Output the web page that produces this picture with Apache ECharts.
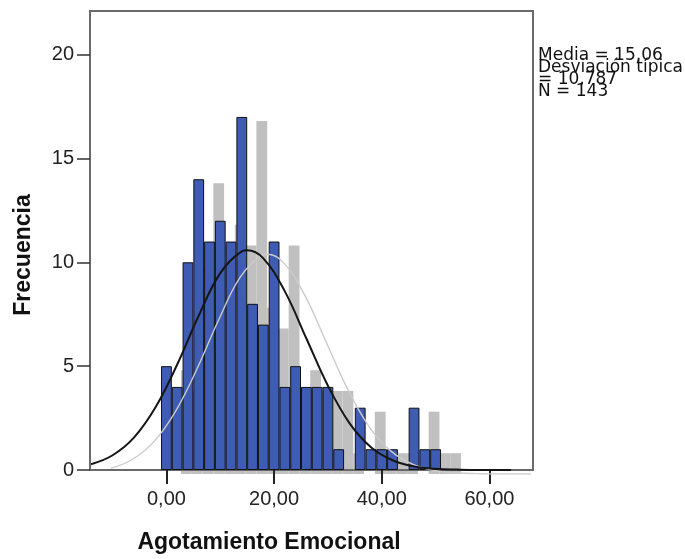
<!DOCTYPE html>
<html>
<head>
<meta charset="utf-8">
<script src="https://cdn.jsdelivr.net/npm/echarts@6/dist/echarts.min.js"></script>
<style>
  html,body{margin:0;padding:0;background:#fff;}
  #d{width:685px;height:559px;}
</style>
</head>
<body>
<div id="d"></div>
<script>
// histograma: centro de cada intervalo (ancho 2) y su frecuencia
var binCenters=[0,2,4,6,8,10,12,14,16,18,20,22,24,26,28,30,32,34,36,38,40,42,44,46,48,50];
var counts=[5,4,10,14,11,12,11,17,8,7,11,4,5,4,4,4,1,0,3,1,1,1,0,3,1,1];
// curva normal
var curveX=[-14,-10,-6,-2,2,6,10,14,15,18,22,26,30,34,38,42,46,50,54,58,64];
var curveY=[0.28,0.71,1.57,3.03,5.08,7.43,9.48,10.53,10.58,10.19,8.60,6.33,4.06,2.26,1.10,0.47,0.17,0.06,0.02,0,0];
var xTicks=[0,20,40,60];
var yTicks=[0,5,10,15,20];
var stats=['Media = 15,06','Desviación típica','= 10,787','N = 143'];

function text(){
  var bars=[],curve=[];
  for(var i=0;i<binCenters.length;i++){
    bars.push([binCenters[i],counts[i]===0?'-':counts[i]]);
  }
  for(var j=0;j<curveX.length;j++){
    curve.push([curveX[j],curveY[j]]);
  }
  return {bars:bars,curve:curve};
}

var xMin=-14.2,xMax=68.1,yMin=0,yMax=22.1;
var fmt=function(v){return v.toFixed(2).replace('.',',');};

var myChart=echarts.init(document.getElementById('d'));
var dd=text();
option={
  animation:false,
  backgroundColor:'#fff',
  grid:[
    {left:90,right:152,top:11,bottom:89,show:true,borderColor:'#6a6a6a',borderWidth:2,backgroundColor:'transparent'},
    //sombra gris desplazada
    {left:110,right:132,top:15,bottom:85,show:false}
  ],
  xAxis:[
    {type:'value',gridIndex:0,min:xMin,max:xMax,
      axisLine:{show:false,onZero:false},splitLine:{show:false},
      axisTick:{show:true,length:14,customValues:xTicks,lineStyle:{color:'#222',width:2}},
      axisLabel:{customValues:xTicks,formatter:fmt,margin:19,color:'#222',fontSize:20,fontFamily:'Liberation Sans'}},
    {type:'value',gridIndex:1,min:xMin,max:xMax,show:false}
  ],
  yAxis:[
    {type:'value',gridIndex:0,min:yMin,max:yMax,
      axisLine:{show:false,onZero:false},splitLine:{show:false},
      axisTick:{show:true,length:13,customValues:yTicks,lineStyle:{color:'#333',width:1.5}},
      axisLabel:{customValues:yTicks,margin:16,color:'#222',fontSize:20,fontFamily:'Liberation Sans'}},
    {type:'value',gridIndex:1,min:yMin,max:yMax,show:false}
  ],
  series:[
    {type:'bar',xAxisIndex:1,yAxisIndex:1,data:dd.bars,barWidth:10.8,z:-1,
      itemStyle:{color:'#c0c0c0'}},
    {type:'bar',xAxisIndex:0,yAxisIndex:0,data:dd.bars,barWidth:10.8,z:2,
      itemStyle:{color:'#3f5cb4',borderColor:'#111',borderWidth:1}},
    {type:'line',xAxisIndex:1,yAxisIndex:1,data:dd.curve,smooth:0.4,symbol:'none',z:3,
      lineStyle:{color:'#cbcbcb',width:1.4}},
    {type:'line',xAxisIndex:0,yAxisIndex:0,data:dd.curve,smooth:0.4,symbol:'none',z:4,
      lineStyle:{color:'#151515',width:2}}
  ],
  graphic:[
    {type:'text',x:269,y:543,style:{text:'Agotamiento Emocional',font:'bold 23px "Liberation Sans"',fill:'#111',align:'center',verticalAlign:'middle'}},
    {type:'text',x:24,y:255,rotation:Math.PI/2,style:{text:'Frecuencia',font:'bold 23px "Liberation Sans"',fill:'#111',align:'center',verticalAlign:'middle'}},
    {type:'text',x:538,y:50,style:{text:stats.join('\n'),font:'17px "DejaVu Sans"',lineHeight:12,fill:'#111',align:'left',verticalAlign:'top'}}
  ]
};
option && myChart.setOption(option);
</script>
</body>
</html>
